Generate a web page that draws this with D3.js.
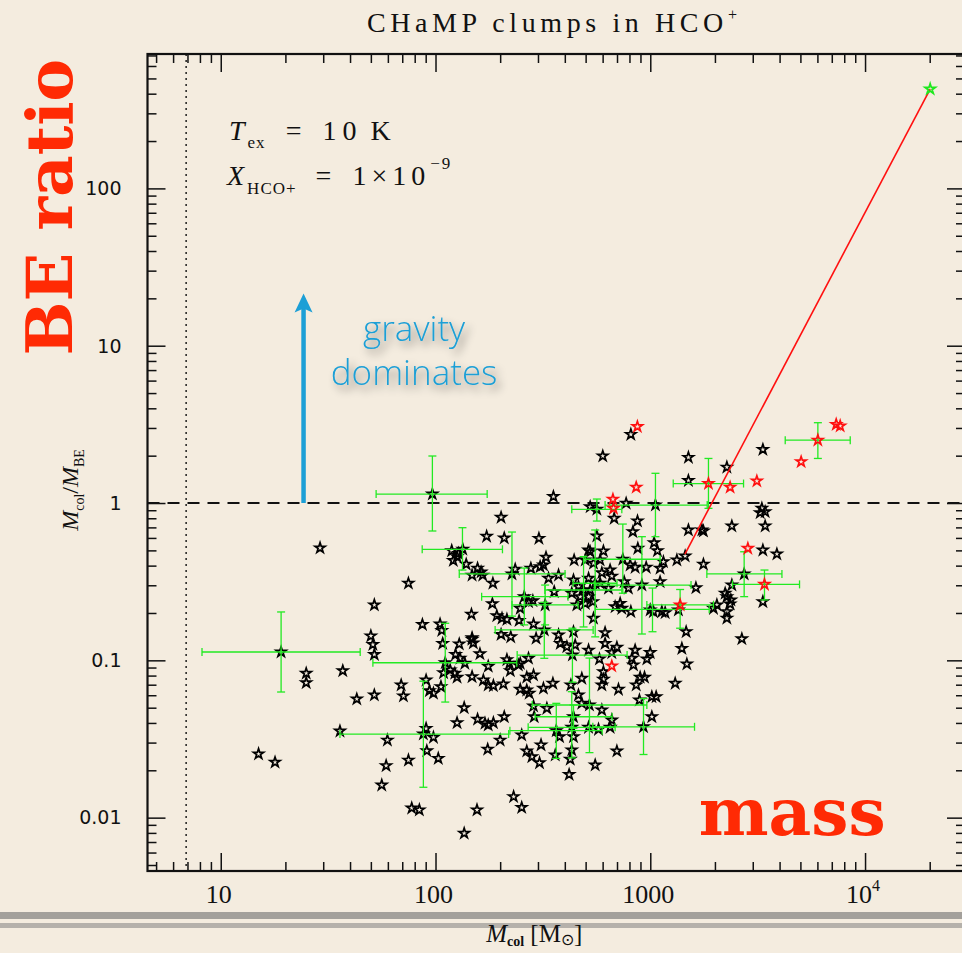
<!DOCTYPE html>
<html>
<head>
<meta charset="utf-8">
<script src="https://cdn.jsdelivr.net/npm/d3@7/dist/d3.min.js"></script>
<style>
html, body { margin: 0; padding: 0; background: #f4ecdf; }
svg { display: block; }
</style>
</head>
<body>
<svg id="chart" width="962" height="953"></svg>
<script>
// ---------- data ----------
const xTickValues = [10, 100, 1000, 10000];
const xTickLabels = ["10", "100", "1000", "10^4"];
const yTickValues = [0.01, 0.1, 1, 10, 100];
const yTickLabels = ["0.01", "0.1", "1", "10", "100"];

// clump column mass [Msun] and M_col / M_BE (black stars)
const clumpMass = [
  15.0, 17.9, 19.1, 25.0, 25.0, 29.0, 35.9, 37.0, 43.0, 50.0, 51.1, 51.9, 51.9, 51.9, 56.2, 58.9, 59.7,
  69.2, 70.9, 74.8, 74.8, 77.5, 84.1, 86.9, 87.8, 90.4, 90.4, 97.8, 91.1, 93.7, 97.8, 103, 105, 107,
  108, 106, 109, 111, 117, 124, 126, 129, 130, 137, 136, 126, 148, 150, 148, 161, 156, 136, 157, 170,
  176, 186, 209, 167, 176, 186, 207, 176, 215, 223, 221, 243, 248, 266, 271, 248, 266, 286, 273, 318,
  286, 288, 330, 175, 200, 252, 266, 281, 305, 310, 231, 252, 202, 173, 209, 303, 134, 119, 128, 121,
  126, 139, 157, 163, 148, 166, 185, 184, 147, 193, 204, 215, 245, 227, 235, 259, 271, 284, 248, 286,
  327, 318, 307, 278, 336, 321, 294, 202, 224, 148, 601, 1505, 1505, 354, 772, 525, 564, 1057, 679, 872,
  830, 1505, 1739, 564, 1042, 1080, 875, 516, 525, 605, 442, 1330, 1453, 1151, 1111, 1768, 745, 584, 544,
  498, 806, 850, 957, 595, 650, 662, 374, 516, 439, 756, 791, 584, 639, 1111, 1631, 914, 463, 489, 525,
  357, 431, 472, 516, 540, 498, 724, 686, 737, 455, 812, 999, 1132, 1173, 1034, 1352, 1969, 2042, 544,
  1469, 616, 439, 374, 381, 409, 447, 516, 616, 699, 662, 850, 821, 835, 999, 964, 1403, 1480, 580, 605,
  605, 595, 480, 711, 860, 897, 940, 1306, 352, 427, 463, 480, 521, 890, 1017, 1065, 595, 1017, 930, 662,
  650, 574, 516, 439, 431, 439, 365, 378, 699, 431, 424, 361, 554, 419, 812, 3344, 2273, 3308, 3427, 3248,
  2398, 3427, 3344, 3886, 2736, 3344, 2398, 2232, 2273, 2372, 2273, 2273, 2669, 1768, 2354, 96.7, 123,
  324, 434, 554
];
const clumpRatio = [
  0.0254, 0.0225, 0.113, 0.0827, 0.0721, 0.518, 0.0355, 0.0859, 0.0568, 0.143, 0.126, 0.109, 0.0602, 0.225, 0.0161, 0.0214, 0.0311,
  0.0697, 0.0593, 0.309, 0.0232, 0.0115, 0.0112, 0.169, 0.0340, 0.0749, 0.0369, 0.0324, 0.0266, 0.0641, 0.0617, 0.0238, 0.170, 0.155,
  0.128, 0.0680, 0.0834, 0.0965, 0.0868, 0.109, 0.0780, 0.127, 0.103, 0.0957, 0.0500, 0.0401, 0.136, 0.129, 0.0787, 0.110, 0.0112, 0.00795, 0.0422, 0.0398,
  0.0388, 0.0401, 0.0438, 0.0749, 0.0697, 0.0690, 0.0707, 0.0916, 0.101, 0.0859, 0.0957, 0.0934, 0.0654, 0.0647, 0.103, 0.0957, 0.0780, 0.0806, 0.0617, 0.0664,
  0.0512, 0.0438, 0.0495, 0.0272, 0.0311, 0.0335, 0.0265, 0.0244, 0.0223, 0.0290, 0.0136, 0.0116, 0.811, 0.614, 0.599, 0.596, 0.508, 0.498, 0.477, 0.431,
  0.456, 0.408, 0.385, 0.364, 0.348, 0.348, 0.309, 0.229, 0.196, 0.192, 0.185, 0.182, 0.179, 0.354, 0.379, 0.254, 0.236, 0.239, 0.214, 0.170,
  0.452, 0.404, 0.394, 0.385, 0.332, 0.156, 0.138, 0.146, 0.141, 0.139, 1.99, 1.95, 1.39, 1.10, 0.996, 0.947, 0.912, 0.971, 0.799, 0.768,
  0.657, 0.674, 0.674, 0.617, 0.559, 0.497, 0.515, 0.502, 0.490, 0.495, 0.434, 0.434, 0.460, 0.423, 0.385, 0.408, 0.439, 0.434, 0.414,
  0.434, 0.404, 0.390, 0.390, 0.360, 0.375, 0.343, 0.348, 0.332, 0.324, 0.316, 0.287, 0.309, 0.287, 0.316, 0.289, 0.301, 0.294, 0.280, 0.280,
  0.273, 0.267, 0.254, 0.254, 0.236, 0.230, 0.230, 0.219, 0.214, 0.225, 0.204, 0.209, 0.204, 0.201, 0.204, 0.209, 0.214, 0.225, 0.185,
  0.152, 0.150, 0.152, 0.145, 0.128, 0.122, 0.125, 0.116, 0.128, 0.121, 0.112, 0.116, 0.103, 0.0934, 0.112, 0.102, 0.119, 0.0947, 0.102, 0.0846,
  0.0757, 0.0697, 0.0768, 0.0654, 0.0697, 0.0780, 0.0780, 0.0714, 0.0714, 0.0697, 0.0602, 0.0533, 0.0520, 0.0559, 0.0587, 0.0587, 0.0483, 0.0438, 0.0378, 0.0417,
  0.0375, 0.0364, 0.0375, 0.0438, 0.0375, 0.0327, 0.0357, 0.0327, 0.0265, 0.0269, 0.0235, 0.0250, 0.0216, 0.0188, 2.73, 2.19, 1.69, 0.925, 0.880, 0.868,
  0.714, 0.714, 0.502, 0.474, 0.354, 0.236, 0.301, 0.267, 0.254, 0.242, 0.204, 0.185, 0.137, 0.664, 0.228, 1.14, 0.0827,
  0.225, 0.108, 0.309
];

// clumps drawn in red
const flaggedMass  = [871, 7340, 7660, 6030, 5040, 3135, 2354, 1866, 860, 670, 674, 2847, 3402, 1377, 662];
const flaggedRatio = [3.06, 3.16, 3.09, 2.51, 1.83, 1.38, 1.26, 1.33, 1.26, 1.056, 0.925, 0.515, 0.304, 0.225, 0.092];

// clumps with uncertainty bars
const errMass    = [19.1, 96.7, 133.5, 111, 87.8, 227, 259, 1057, 564, 1866, 6030, 2736, 3402, 1377,
                    1024, 914, 930, 521, 431, 365, 745, 489, 554, 324, 321, 434, 439];
const errRatio   = [0.113, 1.14, 0.508, 0.0965, 0.034, 0.354, 0.254, 0.971, 0.912, 1.33, 2.51, 0.354, 0.304, 0.225,
                    0.211, 0.301, 0.0378, 0.052, 0.0375, 0.0357, 0.439, 0.280, 0.309, 0.225, 0.156, 0.108, 0.0438];
const errMassLo  = [8.18, 52.9, 86.7, 51.1, 35.9, 129, 164, 616, 431, 1279, 4249, 1834, 2415, 964,
                    554, 549, 540, 282, 270, 222, 497, 323, 437, 227, 189.5, 240, 291];
const errMassHi  = [44.6, 174, 205, 239, 219, 401, 414, 1841, 737, 2718, 8531, 4102, 4954, 1969,
                    1881, 1548, 1607, 964, 686, 597, 1111, 737, 700, 461, 542, 780, 664];
const errRatioLo = [0.0629, 0.664, 0.375, 0.0543, 0.0156, 0.191, 0.168, 0.611, 0.768, 0.925, 1.92, 0.254, 0.242, 0.160,
                    0.152, 0.147, 0.0252, 0.0259, 0.0240, 0.0238, 0.267, 0.163, 0.141, 0.168, 0.103, 0.0727, 0.037];
const errRatioHi = [0.203, 1.99, 0.697, 0.172, 0.0737, 0.654, 0.386, 1.545, 1.06, 1.92, 3.24, 0.490, 0.375, 0.282,
                    0.288, 0.611, 0.0572, 0.1034, 0.0632, 0.0533, 0.735, 0.456, 0.674, 0.301, 0.234, 0.160, 0.052];

// most massive clump and the line joining it
const peakMass = [20100];
const peakRatio = [428];
const trendMass = [1450, 20100];
const trendRatio = [0.474, 428];

const beThreshold = 1;      // M_col = M_BE
const massLimit = 6.9;      // detection limit
const massDomain = [4.56, 29200];
const ratioDomain = [0.00458, 715];

// ---------- layout ----------
const frame = { left: 147.5, right: 965, top: 54, bottom: 871 };
const svg = d3.select("#chart");
const x = d3.scaleLog().domain(massDomain).range([frame.left, frame.right]);
const y = d3.scaleLog().domain(ratioDomain).range([frame.bottom, frame.top]);

const serif = "'Liberation Serif', 'Times New Roman', serif";
const ink = "#111";

// drop shadow used behind the annotation words
const defs = svg.append("defs");
const shadow = defs.append("filter").attr("id", "soft-shadow")
  .attr("x", "-30%").attr("y", "-60%").attr("width", "160%").attr("height", "220%");
shadow.append("feGaussianBlur").attr("in", "SourceAlpha").attr("stdDeviation", 4).attr("result", "blur");
shadow.append("feOffset").attr("in", "blur").attr("dx", 4).attr("dy", 5).attr("result", "off");
shadow.append("feComponentTransfer").attr("in", "off").attr("result", "faded")
  .append("feFuncA").attr("type", "linear").attr("slope", 0.5);
const merge = shadow.append("feMerge");
merge.append("feMergeNode").attr("in", "faded");
merge.append("feMergeNode").attr("in", "SourceGraphic");

// paper background
svg.append("rect").attr("width", 962).attr("height", 953).attr("fill", "#f4ecdf");

// torn-edge bands near the bottom
svg.append("rect").attr("x", 0).attr("y", 912).attr("width", 962).attr("height", 7).attr("fill", "#8f8d89").attr("opacity", 0.8);
svg.append("rect").attr("x", 0).attr("y", 923).attr("width", 962).attr("height", 5).attr("fill", "#9a9894").attr("opacity", 0.7);

// ---------- axes (ticks on all four sides, pointing inward) ----------
const isMajor = v => Math.abs(Math.log10(v) - Math.round(Math.log10(v))) < 1e-6;
const xMinor = x.ticks().filter(v => !isMajor(v));
const yMinor = y.ticks().filter(v => !isMajor(v));

function tickGroup(axis, tx, ty) {
  const g = svg.append("g").attr("transform", `translate(${tx},${ty})`).call(axis);
  g.select(".domain").remove();
  g.selectAll("text").remove();
  g.selectAll("line").attr("stroke", ink).attr("stroke-width", 1.5);
  return g;
}
[[d3.axisBottom, 0, frame.bottom], [d3.axisTop, 0, frame.top]].forEach(([fn, tx, ty]) => {
  tickGroup(fn(x).tickValues(xTickValues).tickSize(-18).tickSizeOuter(0), tx, ty);
  tickGroup(fn(x).tickValues(xMinor).tickSize(-9).tickSizeOuter(0), tx, ty);
});
[[d3.axisLeft, frame.left, 0], [d3.axisRight, frame.right, 0]].forEach(([fn, tx, ty]) => {
  tickGroup(fn(y).tickValues(yTickValues).tickSize(-18).tickSizeOuter(0), tx, ty);
  tickGroup(fn(y).tickValues(yMinor).tickSize(-9).tickSizeOuter(0), tx, ty);
});

svg.append("rect")
  .attr("x", frame.left).attr("y", frame.top)
  .attr("width", frame.right - frame.left).attr("height", frame.bottom - frame.top)
  .attr("fill", "none").attr("stroke", ink).attr("stroke-width", 2.2);

// tick labels
const xLab = svg.append("g").attr("font-family", serif).attr("font-size", 26).attr("fill", ink);
xTickValues.forEach((v, i) => {
  const t = xLab.append("text").attr("x", x(v) - 2).attr("y", 903).attr("text-anchor", "middle");
  const parts = xTickLabels[i].split("^");
  t.append("tspan").text(parts[0]);
  if (parts[1]) t.append("tspan").attr("font-size", 16).attr("dy", -12).text(parts[1]);
});
const yLab = svg.append("g").attr("font-family", "'DejaVu Sans', sans-serif").attr("font-size", 19).attr("fill", ink);
yTickValues.forEach((v, i) => {
  yLab.append("text").attr("x", frame.left - 26).attr("y", y(v)).attr("dy", "0.36em")
    .attr("text-anchor", "end").text(yTickLabels[i]);
});

// axis titles
const yTitle = svg.append("text")
  .attr("transform", `translate(78,${y(1.21)}) rotate(-90)`)
  .attr("text-anchor", "middle").attr("font-family", serif).attr("font-size", 24).attr("fill", ink);
yTitle.append("tspan").attr("font-style", "italic").text("M");
yTitle.append("tspan").attr("font-size", 14).attr("dy", 6).text("col");
yTitle.append("tspan").attr("dy", -6).text("/");
yTitle.append("tspan").attr("font-style", "italic").text("M");
yTitle.append("tspan").attr("font-size", 14).attr("dy", 6).text("BE");

const xTitle = svg.append("text")
  .attr("x", x(288)).attr("y", 942).attr("text-anchor", "middle")
  .attr("font-family", serif).attr("font-size", 25).attr("fill", ink);
xTitle.append("tspan").attr("font-style", "italic").text("M");
xTitle.append("tspan").attr("font-size", 14).attr("font-weight", "bold").attr("dy", 4).text("col");
xTitle.append("tspan").attr("dy", -4).text(" [M");
xTitle.append("tspan").attr("font-size", 16).attr("dy", 3).text("\u2299");
xTitle.append("tspan").attr("dy", -3).text("]");

// chart title
const title = svg.append("text")
  .attr("x", (frame.left + frame.right) / 2 - 2).attr("y", 32).attr("text-anchor", "middle")
  .attr("font-family", serif).attr("font-size", 28).attr("letter-spacing", 4.6).attr("fill", ink);
title.append("tspan").text("CHaMP clumps in HCO");
title.append("tspan").attr("font-size", 16).attr("dy", -12).text("+");

// ---------- reference lines ----------
svg.append("line")
  .attr("x1", frame.left).attr("x2", frame.right)
  .attr("y1", y(beThreshold)).attr("y2", y(beThreshold))
  .attr("stroke", ink).attr("stroke-width", 2).attr("stroke-dasharray", "12,8");
svg.append("line")
  .attr("x1", x(massLimit)).attr("x2", x(massLimit))
  .attr("y1", frame.top).attr("y2", frame.bottom)
  .attr("stroke", ink).attr("stroke-width", 1.4).attr("stroke-dasharray", "2,4");

// ---------- data marks ----------
const star = d3.symbol().type(d3.symbolStar).size(32);
const idx = arr => d3.range(arr.length);

svg.append("g").selectAll("path").data(idx(clumpMass)).join("path")
  .attr("d", star)
  .attr("transform", i => `translate(${x(clumpMass[i])},${y(clumpRatio[i])})`)
  .attr("fill", "none").attr("stroke", "#000").attr("stroke-width", 1.7);

const green = "#22ea22";
const bars = svg.append("g").attr("stroke", green).attr("stroke-width", 1.3).attr("fill", "none");
idx(errMass).forEach(i => {
  const cx = x(errMass[i]), cy = y(errRatio[i]);
  const x0 = x(errMassLo[i]), x1 = x(errMassHi[i]);
  const y0 = y(errRatioLo[i]), y1 = y(errRatioHi[i]);
  bars.append("line").attr("x1", x0).attr("x2", x1).attr("y1", cy).attr("y2", cy);
  bars.append("line").attr("x1", cx).attr("x2", cx).attr("y1", y0).attr("y2", y1);
  [x0, x1].forEach(xx => bars.append("line").attr("x1", xx).attr("x2", xx).attr("y1", cy - 4).attr("y2", cy + 4));
  [y0, y1].forEach(yy => bars.append("line").attr("x1", cx - 4).attr("x2", cx + 4).attr("y1", yy).attr("y2", yy));
});

svg.append("g").selectAll("path").data(idx(flaggedMass)).join("path")
  .attr("d", star)
  .attr("transform", i => `translate(${x(flaggedMass[i])},${y(flaggedRatio[i])})`)
  .attr("fill", "none").attr("stroke", "#ff1010").attr("stroke-width", 1.7);

svg.append("path")
  .datum(idx(trendMass))
  .attr("d", d3.line().x(i => x(trendMass[i])).y(i => y(trendRatio[i])))
  .attr("fill", "none").attr("stroke", "#ff1010").attr("stroke-width", 1.6);

svg.append("g").selectAll("path").data(idx(peakMass)).join("path")
  .attr("d", star)
  .attr("transform", i => `translate(${x(peakMass[i])},${y(peakRatio[i])})`)
  .attr("fill", "none").attr("stroke", "#1ee81e").attr("stroke-width", 1.8);

// ---------- annotations ----------
const conds = svg.append("g").attr("font-family", serif).attr("font-size", 28).attr("fill", ink);
const t1 = conds.append("text").attr("x", 229).attr("y", 140);
t1.append("tspan").attr("font-style", "italic").text("T");
t1.append("tspan").attr("font-size", 17).attr("dy", 8).attr("dx", 3).attr("letter-spacing", 1).text("ex");
t1.append("tspan").attr("dy", -8).attr("dx", 20).text("=");
t1.append("tspan").attr("dx", 21).attr("letter-spacing", 6).text("10");
t1.append("tspan").attr("dx", 8).text("K");
const t2 = conds.append("text").attr("x", 227).attr("y", 185);
t2.append("tspan").attr("font-style", "italic").text("X");
t2.append("tspan").attr("font-size", 17).attr("dy", 9).attr("dx", 3).attr("letter-spacing", 1).text("HCO+");
t2.append("tspan").attr("dy", -9).attr("dx", 19).text("=");
t2.append("tspan").attr("dx", 21).attr("letter-spacing", 5).text("1\u00d710");
t2.append("tspan").attr("font-size", 17).attr("dy", -16).attr("letter-spacing", 2).text("\u22129");

// gravity arrow
const blue = "#1c9fd6";
const ax = x(24.3);
svg.append("line").attr("x1", ax).attr("x2", ax).attr("y1", y(1)).attr("y2", y(19))
  .attr("stroke", blue).attr("stroke-width", 4.5);
svg.append("path")
  .attr("d", `M${ax},${y(21.5)} L${ax - 9},${y(21.5) + 19} L${ax},${y(21.5) + 15} L${ax + 9},${y(21.5) + 19} Z`)
  .attr("fill", blue);

const grav = svg.append("g").attr("font-family", "'Open Sans', 'Liberation Sans', sans-serif")
  .attr("font-weight", 300).attr("font-size", 35).attr("fill", blue)
  .attr("text-anchor", "middle").attr("filter", "url(#soft-shadow)");
grav.append("text").attr("x", x(79.5)).attr("y", y(10.7)).text("gravity");
grav.append("text").attr("x", x(79.5)).attr("y", y(5.63)).text("dominates");

// slide headings
const headRed = "#ff2a04";
svg.append("text")
  .attr("transform", `translate(72,${y(76)}) rotate(-90)`)
  .attr("text-anchor", "middle")
  .attr("font-family", "'DejaVu Serif', serif").attr("font-weight", "bold").attr("font-size", 64)
  .attr("fill", headRed).text("BE ratio");
svg.append("text")
  .attr("x", x(4580)).attr("y", y(0.0078))
  .attr("text-anchor", "middle")
  .attr("font-family", "'DejaVu Serif', serif").attr("font-weight", "bold").attr("font-size", 66)
  .attr("fill", headRed).text("mass");
</script>
</body>
</html>
